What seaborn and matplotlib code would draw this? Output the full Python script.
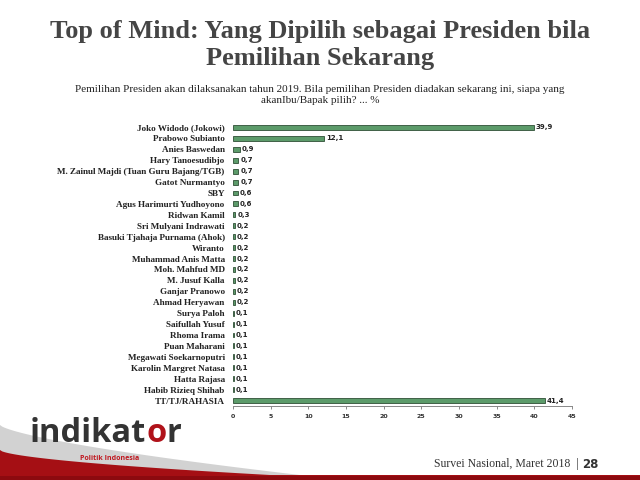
import matplotlib
matplotlib.use("Agg")
import matplotlib.pyplot as plt
import seaborn as sns
import numpy as np
import pandas as pd

names = ["Joko Widodo (Jokowi)", "Prabowo Subianto", "Anies Baswedan", "Hary Tanoesudibjo",
         "M. Zainul Majdi (Tuan Guru Bajang/TGB)", "Gatot Nurmantyo", "SBY", "Agus Harimurti Yudhoyono",
         "Ridwan Kamil", "Sri Mulyani Indrawati", "Basuki Tjahaja Purnama (Ahok)", "Wiranto",
         "Muhammad Anis Matta", "Moh. Mahfud MD", "M. Jusuf Kalla", "Ganjar Pranowo", "Ahmad Heryawan",
         "Surya Paloh", "Saifullah Yusuf", "Rhoma Irama", "Puan Maharani", "Megawati Soekarnoputri",
         "Karolin Margret Natasa", "Hatta Rajasa", "Habib Rizieq Shihab", "TT/TJ/RAHASIA"]
values = [39.9, 12.1, 0.9, 0.7, 0.7, 0.7, 0.6, 0.6, 0.3, 0.2, 0.2, 0.2, 0.2, 0.2, 0.2, 0.2, 0.2,
          0.1, 0.1, 0.1, 0.1, 0.1, 0.1, 0.1, 0.1, 41.4]
xticks = [0, 5, 10, 15, 20, 25, 30, 35, 40, 45]

title = "Top of Mind: Yang Dipilih sebagai Presiden bila\nPemilihan Sekarang"
subtitle = "Pemilihan Presiden akan dilaksanakan tahun 2019. Bila pemilihan Presiden diadakan sekarang ini, siapa yang\nakanIbu/Bapak pilih? ... %"
footer = "Survei Nasional, Maret 2018"
page = "28"

df = pd.DataFrame({"name": names, "value": values})

sns.set_theme(style="white")
fig = plt.figure(figsize=(6.4, 4.8), dpi=100)

# background decoration axes (pixel coords)
bg = fig.add_axes([0, 0, 1, 1], zorder=0)
bg.set_xlim(0, 640); bg.set_ylim(480, 0); bg.axis("off")
xx = np.linspace(0, 640, 300)
gray_top = 425 + 50 * np.clip(xx / 300, 0, 1) ** 0.7
red_top = 450 + 25 * np.clip(xx / 270, 0, 1) ** 0.6
bg.fill_between(xx, gray_top, 480, color="#d2d2d2", lw=0)
bg.fill_between(xx, red_top, 480, color="#a50f14", lw=0)
bg.fill_between(xx, 476, 480, color="#8c0a0f", lw=0)

ax = fig.add_axes([233/640, 1-406/480, 339/640, (406-122)/480], zorder=1)
sns.barplot(data=df, x="value", y="name", orient="h", color="#5c9b6a", width=0.45,
            edgecolor="#2f4f36", linewidth=0.6, saturation=1, ax=ax)
ax.set_xlim(0, 45)
ax.set_xticks(xticks)
ax.set_xticklabels([str(t) for t in xticks], fontsize=4.5, fontweight="bold", color="#333333")
ax.set_xlabel(""); ax.set_ylabel("")
ax.set_yticks(range(len(names)))
ax.set_yticklabels(names, fontsize=6.6, fontweight="bold", family="Liberation Serif", color="#222222")
ax.tick_params(axis="y", length=0, pad=6)
ax.tick_params(axis="x", length=2, width=0.6, color="#777777", pad=4, bottom=True)
for s in ["top", "right", "left"]:
    ax.spines[s].set_visible(False)
ax.spines["bottom"].set_color("#888888")
ax.spines["bottom"].set_linewidth(0.7)
ax.set_ylim(len(names) - 0.5, -0.5)
for i, v in enumerate(values):
    ax.text(v + 0.25, i, f"{v:.1f}".replace(".", ","), va="center", ha="left",
            fontsize=5, fontweight="bold", color="#222222")

fig.text(0.5, 1-45/480, title, ha="center", va="center", fontsize=19, fontweight="bold",
         family="Liberation Serif", color="#454545", linespacing=1.25)
fig.text(0.5, 1-95/480, subtitle, ha="center", va="center", fontsize=8,
         family="Liberation Serif", color="#222222", linespacing=1.3)

# logo
renderer = fig.canvas.get_renderer()
x0 = 30 / 640
ylogo = 1 - 434 / 480
parts = [("indikat", "#333333"), ("o", "#b0121a"), ("r", "#333333")]
for txt, col in parts:
    t = fig.text(x0, ylogo, txt, ha="left", va="center", fontsize=23.5, fontweight="bold",
                 family="Open Sans", color=col)
    bb = t.get_window_extent(renderer)
    x0 = bb.x1 / fig.bbox.width
fig.text(80/640, 1-459/480, "Politik Indonesia", ha="left", va="center", fontsize=5,
         fontweight="bold", family="Open Sans", color="#c01820")

fig.text(579/640, 1-464/480, footer + "  |", ha="right", va="center", fontsize=8.5,
         family="Liberation Serif", color="#333333")
fig.text(582/640, 1-464/480, page, ha="left", va="center", fontsize=8.5, fontweight="bold",
         color="#333333")

fig.savefig("out.png", dpi=100)
